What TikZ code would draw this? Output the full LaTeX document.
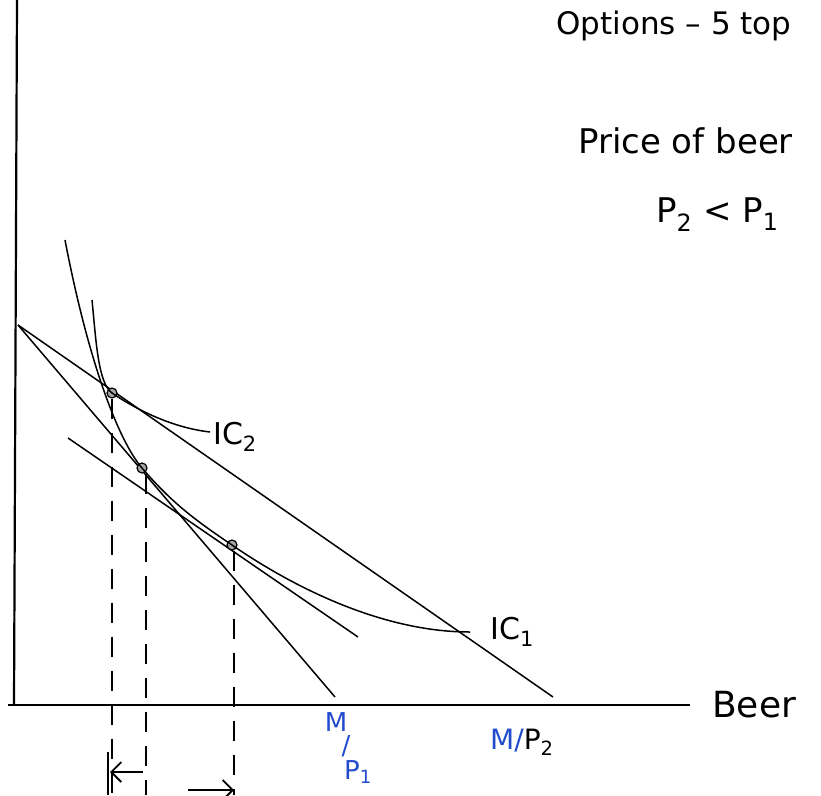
\documentclass[tikz,border=0pt]{standalone}
\usepackage{fontspec}
\setmainfont{DejaVu Sans}
\usetikzlibrary{arrows.meta}
\begin{document}
\begin{tikzpicture}[x=1pt,y=-1pt,
  line/.style={line width=1.5pt,black},
  axis/.style={line width=2.2pt,black},
  guide/.style={line width=1.6pt,dash pattern=on 20pt off 14pt},
  pt/.style={circle,draw=black,fill=gray!70,line width=1.2pt,inner sep=0pt,minimum size=10pt},
  hand/.style={inner sep=0pt,font=\fontsize{30}{34}\selectfont},
  barb/.style={-{Straight Barb[length=10pt,width=20pt,line width=1.8pt]}},
  blue/.style={text=handblue}]
\definecolor{handblue}{RGB}{35,75,205}
\useasboundingbox (0,0) rectangle (821,795);
% axes
\coordinate (ytop) at (17,0);
\coordinate (o) at (14,705);
\coordinate (xl) at (8,705);
\coordinate (xr) at (690,705);
\draw[axis] (ytop) -- (o);
\draw[axis] (xl) -- (xr);
% budget lines
\coordinate (B) at (18,325);
\coordinate (A1) at (335,697);
\coordinate (A2) at (553,697);
\draw[line] (B) -- (A1);
\draw[line] (B) -- (A2);
% compensated line
\coordinate (C1) at (68,438);
\coordinate (C2) at (358,637);
\draw[line] (C1) -- (C2);
% tangency points
\node[pt] (E2) at (112,393) {};
\node[pt] (E1) at (142,468) {};
\node[pt] (E3) at (232,545) {};
% IC1
\coordinate (I1s) at (65,240);
\coordinate (I1e) at (470,632);
\draw[line] (I1s) .. controls (88,360) and (118,440) .. (E1.center)
  .. controls (172,503) and (195,520) .. (E3.center)
  .. controls (290,585) and (380,632) .. (I1e);
% IC2
\coordinate (I2s) at (92,300);
\coordinate (I2e) at (210,432);
\draw[line] (I2s) .. controls (96,340) and (98,383) .. (E2.center)
  .. controls (140,412) and (175,428) .. (I2e);
% dashed guides
\coordinate (D2) at (112,795);
\coordinate (D1) at (146,795);
\coordinate (D3) at (234,795);
\draw[guide] (E2.south) -- (D2);
\draw[guide] (E1.south -| D1) -- (D1);
\draw[guide] (E3.south -| D3) -- (D3);
% bottom arrows
\coordinate (T1) at (108,752);
\coordinate (T2) at (108,795);
\draw[line] (T1) -- (T2);
\coordinate (L1) at (143,772);
\coordinate (L2) at (110,772);
\draw[line,barb] (L1) -- (L2);
\coordinate (R1) at (188,790);
\coordinate (R2) at (234,790);
\draw[line,barb] (R1) -- (R2);
% labels
\node[hand,anchor=west] (ic2) at (213,437) {IC\textsubscript{2}};
\node[hand,anchor=west] (ic1) at (490,632) {IC\textsubscript{1}};
\node[hand,anchor=west,font=\fontsize{36}{40}\selectfont] (beer) at (712,705) {Beer};
\node[hand,blue,font=\fontsize{26}{30}\selectfont] (m1) at (336,722) {M};
\node[hand,blue,font=\fontsize{26}{30}\selectfont] (s1) at (346,746) {/};
\node[hand,blue,font=\fontsize{26}{30}\selectfont] (p1) at (358,772) {P\textsubscript{1}};
\node[hand,anchor=west,font=\fontsize{28}{32}\selectfont] (mp2) at (490,742) {\textcolor{handblue}{M/}P\textsubscript{2}};
\node[hand,anchor=base west,font=\fontsize{34}{38}\selectfont] (price) at (578,153) {Price of beer};
\node[hand,anchor=base west,font=\fontsize{34}{38}\selectfont] (cmp) at (656,222) {P\textsubscript{2} < P\textsubscript{1}};
\node[hand,anchor=base west,font=\fontsize{31}{35}\selectfont] (top) at (556,34) {Options -- 5 top};
\end{tikzpicture}
\end{document}
